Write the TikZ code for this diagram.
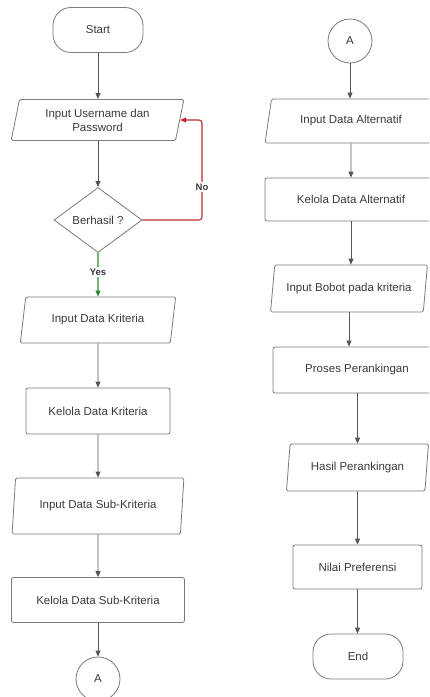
\documentclass[tikz,border=0pt]{standalone}
\usepackage{fontspec}
\setmainfont{Liberation Sans}
\usetikzlibrary{shapes.geometric,arrows.meta,calc}
\definecolor{txt}{HTML}{3A3A3A}
\definecolor{bord}{HTML}{7A7A7A}
\definecolor{conn}{HTML}{555555}
\definecolor{nored}{HTML}{C0282B}
\definecolor{yesgreen}{HTML}{2E8B2E}
\tikzset{
  base/.style={draw=bord, line width=0.8pt, text=txt, font=\fontsize{11.5}{14}\selectfont, align=center, inner sep=0pt},
  term/.style={base, rectangle, rounded corners=18pt, minimum width=90pt, minimum height=45pt},
  procbox/.style={base, rectangle, rounded corners=2pt},
  iobox/.style={base, trapezium, trapezium left angle=#1, trapezium right angle={180-#1}, trapezium stretches=true, rounded corners=1.5pt},
  decbox/.style={base, diamond, aspect=1.35, minimum width=88pt, minimum height=65pt},
  conbox/.style={base, circle, minimum size=44pt},
  arr/.style={draw=conn, line width=0.8pt, -{Triangle[length=6pt,width=5pt]}},
  lbl/.style={font=\bfseries\fontsize{9.5}{11}\selectfont, text=txt, fill=white, inner sep=1.5pt}
}
\begin{document}
\begin{tikzpicture}[x=1pt,y=-1pt]
\useasboundingbox (0,0) rectangle (429,697);
\clip (0,0) rectangle (429,697);
\fill[white] (0,0) rectangle (429,697);
% left column
\node[term] (start) at (98,30) {Start};
\node[iobox=76, minimum width=173pt, minimum height=41pt] (in1) at (97.5,120) {Input Username dan\\Password};
\node[decbox] (dec) at (98,220) {Berhasil ?};
\node[iobox=72, minimum width=156pt, minimum height=46pt] (in2) at (98,320) {Input Data Kriteria};
\node[procbox, minimum width=144pt, minimum height=46pt] (p1) at (98,411) {Kelola Data Kriteria};
\node[iobox=77, minimum width=172pt, minimum height=56pt] (in3) at (98,506) {Input Data Sub-Kriteria};
\node[procbox, minimum width=173pt, minimum height=45pt] (p2) at (98,600) {Kelola Data Sub-Kriteria};
\node[conbox] (a1) at (98,679) {A};
% right column
\node[conbox] (a2) at (350,41) {A};
\node[iobox=69, minimum width=172pt, minimum height=44pt] (in4) at (351,121) {Input Data Alternatif};
\node[procbox, minimum width=172pt, minimum height=43pt] (p3) at (351,199.5) {Kelola Data Alternatif};
\node[iobox=72, minimum width=157pt, minimum height=47pt] (in5) at (349,288.5) {Input Bobot pada kriteria};
\node[procbox, minimum width=168pt, minimum height=46pt] (p4) at (357,370) {Proses Perankingan};
\node[iobox=77, minimum width=143pt, minimum height=47pt] (in6) at (357.5,467.5) {Hasil Perankingan};
\node[procbox, minimum width=129pt, minimum height=44pt] (p5) at (357.5,567) {Nilai Preferensi};
\node[term] (end) at (358,656.5) {End};
% connectors left
\draw[arr] (start.south) -- (start.south |- in1.north);
\draw[arr] (in1.south -| dec.north) -- (dec.north);
\coordinate (nocorner) at (202,220);
\draw[arr, draw=nored, line width=1.1pt, rounded corners=3pt] (dec.east) -- (nocorner) |- (in1.east);
\node[lbl] (nolbl) at (202,187) {No};
\draw[arr, draw=yesgreen, line width=1.1pt] (dec.south) -- (in2.north);
\node[lbl] (yeslbl) at (98,272) {Yes};
\draw[arr] (in2.south) -- (p1.north);
\draw[arr] (p1.south) -- (in3.north);
\draw[arr] (in3.south) -- (p2.north);
\draw[arr] (p2.south) -- (a1.north);
% connectors right
\draw[arr] (a2.south) -- (a2.south |- in4.north);
\draw[arr] (in4.south) -- (p3.north);
\draw[arr] (p3.south) -- (p3.south |- in5.north);
\draw[arr] (in5.south) -- (in5.south |- p4.north);
\draw[arr] (p4.south -| in6.north) -- (in6.north);
\draw[arr] (in6.south) -- (p5.north);
\draw[arr] (p5.south) -- (p5.south |- end.north);
\end{tikzpicture}
\end{document}
